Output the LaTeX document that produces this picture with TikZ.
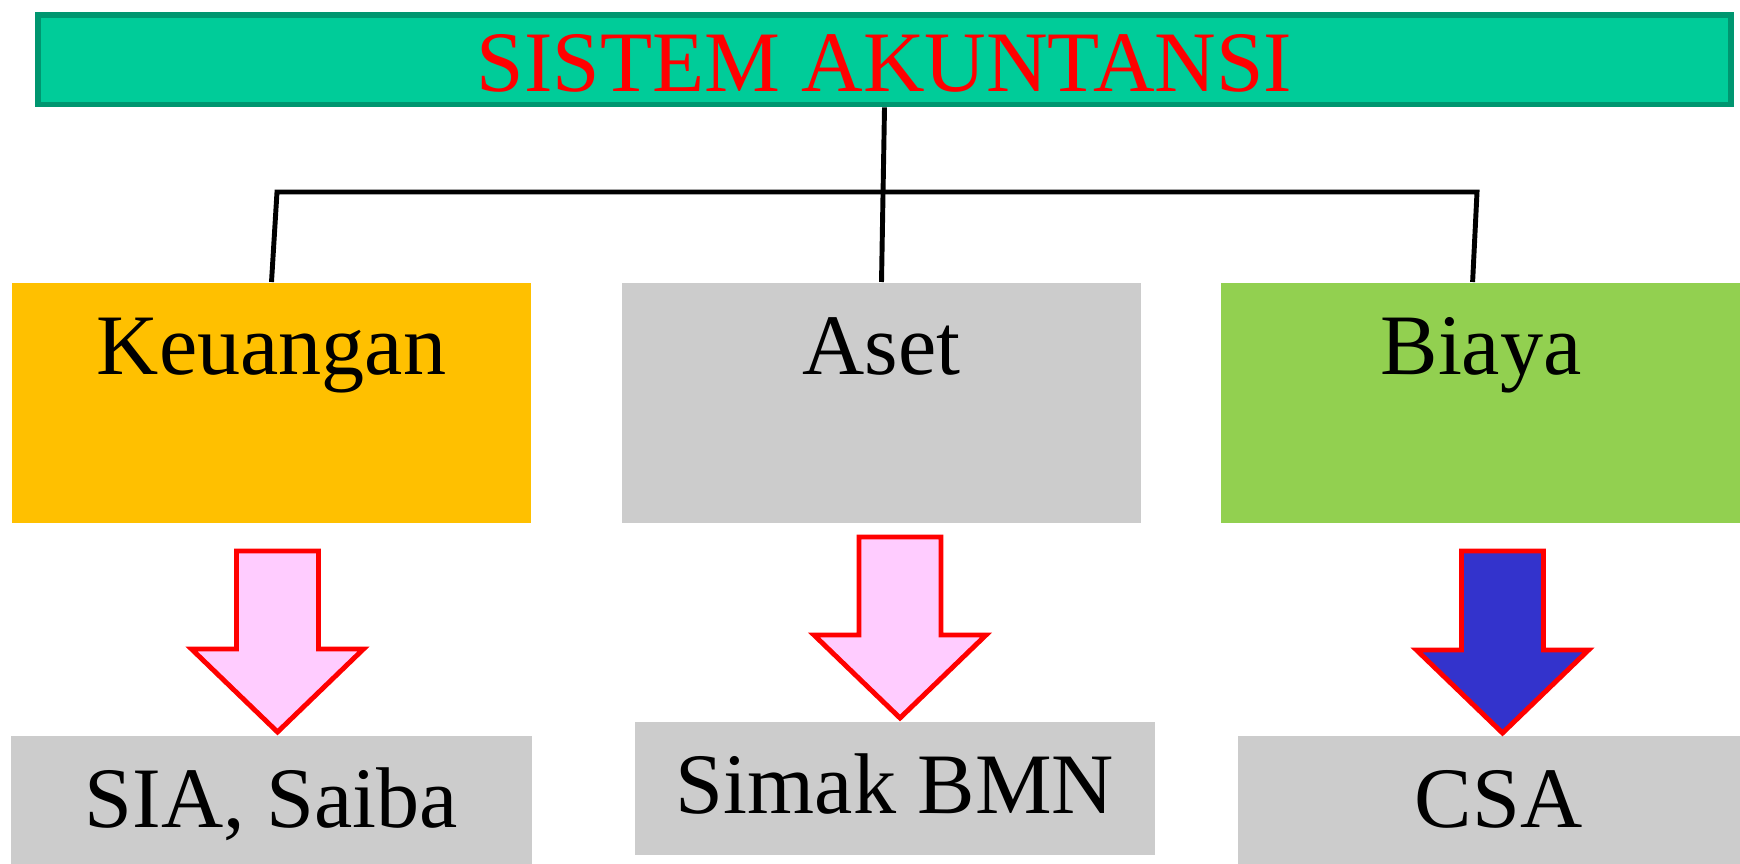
\documentclass[tikz,border=0pt]{standalone}
\usepackage{fontspec}
\setmainfont{Liberation Serif}
\usetikzlibrary{positioning, calc}

\definecolor{titlefill}{HTML}{00CC99}
\definecolor{titleline}{HTML}{009670}
\definecolor{keufill}{HTML}{FFC000}
\definecolor{grayfill}{HTML}{CCCCCC}
\definecolor{biayafill}{HTML}{92D050}
\definecolor{arrowpink}{HTML}{FFCCFF}
\definecolor{arrowblue}{HTML}{3333CC}

\begin{document}
\begin{tikzpicture}[
    x=0.01cm, y=-0.01cm,
    every node/.style={inner sep=0pt, font=\fontsize{24.5}{29}\selectfont},
    topbox/.style={rectangle, anchor=north, minimum width=5.19cm, text height=0.92cm, text depth=1.48cm},
    subbox/.style={rectangle, anchor=north, fill=grayfill, minimum width=5.2cm, text height=0.92cm, text depth=0.41cm},
    link/.style={line width=1.4pt},
    blockarrow/.style={draw=red, line width=1.4pt}
]
    \useasboundingbox (0,0) rectangle (1740,864);

    % Title bar
    \node[draw=titleline, line width=1.6pt, fill=titlefill, text=red, anchor=north,
          minimum width=16.924cm, text height=0.76cm, text depth=0.134cm]
        (title) at (884.5,12.3) {\scalebox{0.99}[1]{SISTEM AKUNTANSI}};

    % Three parts of the system
    \node[topbox, fill=keufill] (keu) at (271.5,282) {Keuangan};
    \node[topbox, fill=grayfill] (aset) at (881.5,282) {Aset};
    \node[topbox, fill=biayafill] (biaya) at (1481,282) {Biaya};

    % Applications used
    \node[subbox] (sia) at (271.5,735) {SIA, Saiba};
    \node[subbox] (simak) at (895,721) {Simak BMN};
    \node[subbox, minimum width=5.21cm] (csa) at (1498.5,735) {CSA};

    % Tree lines
    \coordinate (barL) at (277,192);
    \coordinate (barR) at (1477,192);
    \draw[link] (title.south) -- (aset.north);
    \draw[link] (keu.north) -- (barL) -- (barR) -- ([xshift=-0.084cm]biaya.north);

    % Block arrows down to the applications
    \foreach \arrx/\arry/\arrtip/\arrcol in {277.5/551/732/arrowpink, 900/537/718/arrowpink, 1502.5/551/733/arrowblue}
        \draw[blockarrow, fill=\arrcol] (\arrx-41,\arry) -- (\arrx+41,\arry) -- (\arrx+41,\arrtip-83)
            -- (\arrx+86,\arrtip-83) -- (\arrx,\arrtip) -- (\arrx-86,\arrtip-83) -- (\arrx-41,\arrtip-83) -- cycle;
\end{tikzpicture}
\end{document}
